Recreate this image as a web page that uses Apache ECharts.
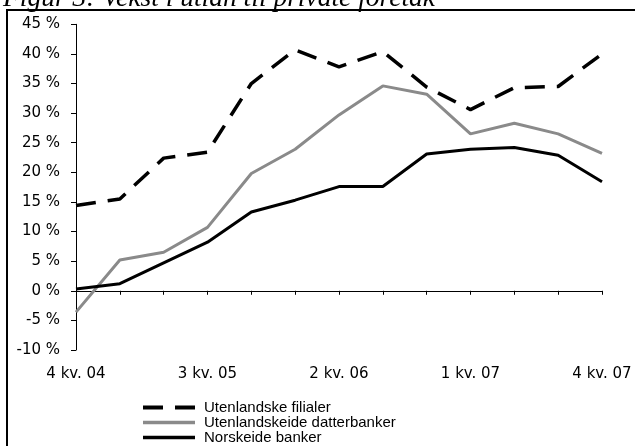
<!DOCTYPE html>
<html>
<head>
<meta charset="utf-8">
<script src="https://cdn.jsdelivr.net/npm/echarts@6/dist/echarts.min.js"></script>
<style>
  html, body { margin: 0; padding: 0; background: #fff; }
  #chart { width: 635px; height: 446px; }
</style>
</head>
<body>
<div id="chart"></div>
<script>
// kvartaler, 4 kv. 04 - 4 kv. 07
var quarters = ['4 kv. 04', '1 kv. 05', '2 kv. 05', '3 kv. 05', '4 kv. 05', '1 kv. 06', '2 kv. 06',
	'3 kv. 06', '4 kv. 06', '1 kv. 07', '2 kv. 07', '3 kv. 07', '4 kv. 07'];
var seriesNames = ['Utenlandske filialer', 'Utenlandskeide datterbanker', 'Norskeide banker'];
// vekst i prosent
var filialer = [14.4, 15.5, 22.4, 23.4, 35.0, 40.7, 37.8, 40.4, 34.4, 30.6, 34.3, 34.5, 40.0];
var datterbanker = [-3.6, 5.2, 6.5, 10.7, 19.8, 23.9, 29.7, 34.6, 33.2, 26.5, 28.3, 26.5, 23.2];
var norskeide = [0.3, 1.2, 4.7, 8.2, 13.3, 15.3, 17.6, 17.6, 23.1, 23.9, 24.2, 22.9, 18.4];
var yMin = -10, yMax = 45, yStep = 5;
var titleText = 'Figur 3: Vekst i utlån til private foretak';

var font = '"Liberation Sans", Arial, sans-serif';
var axisFont = '"DejaVu Sans", sans-serif';
var myChart = echarts.init(document.getElementById('chart'), null, { renderer: 'canvas' });

var option = {
	animation: false,
	backgroundColor: '#fff',
	textStyle: { fontFamily: font },
	grid: { left: 76, right: 33, top: 24.3, bottom: 96 },
	graphic: [
		{
			type: 'polyline',
			shape: { points: [[7, 446], [7, 10], [635, 10]] },
			style: { stroke: '#000', lineWidth: 2, fill: null }
		},
		{
			type: 'text',
			style: {
				text: titleText,
				x: 3, y: 12,
				font: 'italic 27.5px "Liberation Serif", "Times New Roman", serif',
				fill: '#000',
				verticalAlign: 'bottom'
			}
		}
	],
	legend: {
		orient: 'vertical',
		left: 141,
		top: 400,
		itemGap: 0,
		itemWidth: 52,
		itemHeight: 12,
		padding: 0,
		// tykkere linjer i forklaringen
		data: [
			{ name: seriesNames[0], lineStyle: { width: 4 } },
			{ name: seriesNames[1], lineStyle: { width: 3.5 } },
			{ name: seriesNames[2], lineStyle: { width: 3.5 } }
		],
		itemStyle: { opacity: 0 },
		textStyle: { fontFamily: font, fontSize: 15, color: '#000', lineHeight: 14.7, padding: [0, 0, 0, 4] }
	},
	xAxis: [
		{
			type: 'category',
			data: quarters,
			boundaryGap: false,
			axisLine: { onZero: true, lineStyle: { color: '#000', width: 1 } },
			axisTick: { show: true, interval: 0, length: 4, lineStyle: { color: '#000' } },
			axisLabel: { show: false },
			splitLine: { show: false }
		},
		{
			type: 'category',
			data: quarters,
			position: 'bottom',
			boundaryGap: false,
			axisLine: { show: false, onZero: false },
			axisTick: { show: false },
			axisLabel: {
				interval: 2,
				margin: 17,
				color: '#000',
				fontFamily: axisFont,
				fontSize: 15
			},
			splitLine: { show: false }
		}
	],
	yAxis: {
		type: 'value',
		min: yMin,
		max: yMax,
		interval: yStep,
		axisLine: { show: true, lineStyle: { color: '#000', width: 1 } },
		axisTick: { show: true, length: 5, lineStyle: { color: '#000' } },
		axisLabel: {
			margin: 16,
			color: '#000',
			fontFamily: axisFont,
			fontSize: 15,
			formatter: '{value} %'
		},
		splitLine: { show: false }
	},
	series: [
		{
			name: seriesNames[0],
			type: 'line',
			data: filialer,
			symbol: 'none',
			z: 3,
			lineStyle: { color: '#000', width: 3.5, type: [20, 12], cap: 'butt' },
			itemStyle: { color: '#000' }
		},
		{
			name: seriesNames[1],
			type: 'line',
			data: datterbanker,
			symbol: 'none',
			z: 2,
			lineStyle: { color: '#8a8a8a', width: 3 },
			itemStyle: { color: '#8a8a8a' }
		},
		{
			name: seriesNames[2],
			type: 'line',
			data: norskeide,
			symbol: 'none',
			z: 2,
			lineStyle: { color: '#000', width: 3 },
			itemStyle: { color: '#000' }
		}
	]
};

myChart.setOption(option);
</script>
</body>
</html>
